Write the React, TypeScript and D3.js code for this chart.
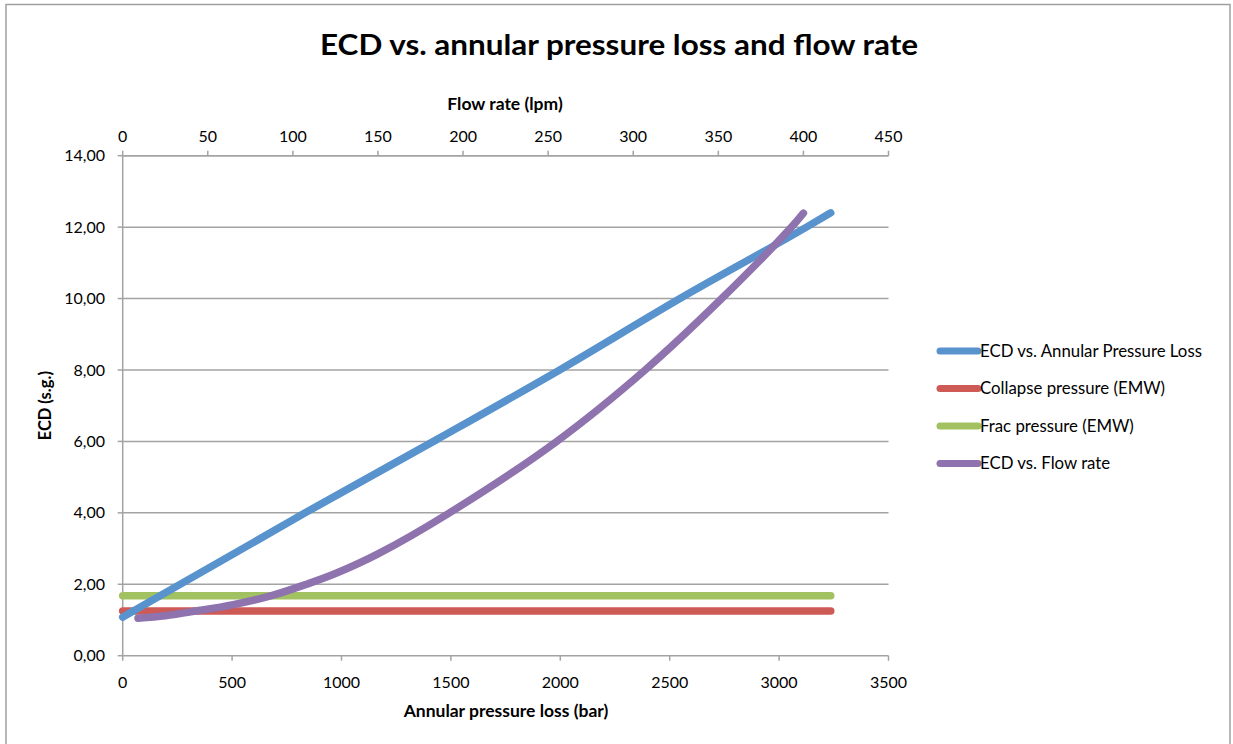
import React from "react";
import * as d3 from "d3";

const W = 1233;
const H = 744;

// Bottom axis: annular pressure loss (bar)
const aplTicks = [0, 500, 1000, 1500, 2000, 2500, 3000, 3500];
// Top axis: flow rate (lpm)
const flowTicks = [0, 50, 100, 150, 200, 250, 300, 350, 400, 450];
const ecdTicks = [0, 2, 4, 6, 8, 10, 12, 14];

// ECD vs annular pressure loss
const aplValues = [0, 834, 1435, 1997, 2547, 3125, 3236];
const ecdVsApl = [1.08, 4.0, 6.05, 8.0, 10.0, 12.0, 12.4];

// Collapse / frac pressure (EMW), constant over APL range
const limitApl = [0, 3236];
const collapseEmw = [1.25, 1.25];
const fracEmw = [1.68, 1.68];

// ECD vs flow rate
const flowValues = [9, 25, 43, 65, 88, 108, 125, 150, 192, 255, 307, 352, 393, 400];
const ecdVsFlow = [1.05, 1.12, 1.25, 1.43, 1.69, 2.0, 2.3, 2.85, 4.0, 6.0, 8.0, 10.0, 12.0, 12.39];

const seriesNames = [
  "ECD vs. Annular Pressure Loss",
  "Collapse pressure (EMW)",
  "Frac pressure (EMW)",
  "ECD vs. Flow rate",
];
const seriesColors = ["#5893cd", "#cd5a55", "#a2c160", "#8f73ae"];

const FONT = "Lato, 'Open Sans', sans-serif";

export default function App() {
  const left = 122.7;
  const right = 888.5;
  const top = 155.7;
  const bottom = 655.7;

  const xApl = d3.scaleLinear().domain([0, 3500]).range([left, right]);
  const xFlow = d3.scaleLinear().domain([0, 450]).range([left, right]);
  const y = d3.scaleLinear().domain([0, 14]).range([bottom, top]);

  const lineApl = d3
    .line<[number, number]>()
    .x((d) => xApl(d[0]))
    .y((d) => y(d[1]))
    .curve(d3.curveMonotoneX);
  const lineFlow = d3
    .line<[number, number]>()
    .x((d) => xFlow(d[0]))
    .y((d) => y(d[1]))
    .curve(d3.curveCatmullRom.alpha(0.5));

  const zip = (a: number[], b: number[]) => a.map((v, i) => [v, b[i]] as [number, number]);

  const paths = [
    lineApl(zip(aplValues, ecdVsApl)),
    lineApl(zip(limitApl, collapseEmw)),
    lineApl(zip(limitApl, fracEmw)),
    lineFlow(zip(flowValues, ecdVsFlow)),
  ];
  const order = [2, 1, 0, 3];

  const fmt = (v: number) => v.toFixed(2).replace(".", ",");
  const axisColor = "#a3a3a3";

  return (
    <svg
      width={W}
      height={H}
      style={{ position: "absolute", left: 0, top: 0, background: "#fff" }}
      fontFamily={FONT}
    >
      <rect x={6} y={4.5} width={1224} height={760} fill="#fff" stroke="#a0a0a0" strokeWidth={1.5} />

      <text
        x={619}
        y={55}
        textAnchor="middle"
        fontSize={29}
        fontWeight="bold"
        fill="#000"
        textLength={598}
        lengthAdjust="spacingAndGlyphs"
      >
        ECD vs. annular pressure loss and flow rate
      </text>

      {/* gridlines */}
      {ecdTicks.slice(1).map((t) => (
        <line key={"g" + t} x1={left} x2={right} y1={y(t)} y2={y(t)} stroke={axisColor} strokeWidth={1.5} />
      ))}

      {/* left axis */}
      <line x1={left} x2={left} y1={top} y2={bottom} stroke={axisColor} strokeWidth={1.5} />
      {ecdTicks.map((t) => (
        <g key={"y" + t}>
          <line x1={left - 5} x2={left} y1={y(t)} y2={y(t)} stroke={axisColor} strokeWidth={1.5} />
          <text x={105} y={y(t)} dy="0.35em" textAnchor="end" fontSize={16} fill="#000">
            {fmt(t)}
          </text>
        </g>
      ))}
      <text
        transform={`translate(51,${(top + bottom) / 2}) rotate(-90)`}
        textAnchor="middle"
        fontSize={16.5}
        fontWeight="bold"
        fill="#000"
      >
        ECD (s.g.)
      </text>

      {/* bottom axis */}
      <line x1={left} x2={right} y1={bottom} y2={bottom} stroke={axisColor} strokeWidth={1.5} />
      {aplTicks.map((t) => (
        <g key={"b" + t}>
          <line x1={xApl(t)} x2={xApl(t)} y1={bottom} y2={bottom + 5} stroke={axisColor} strokeWidth={1.5} />
          <text x={xApl(t)} y={688} textAnchor="middle" fontSize={16} fill="#000">
            {t}
          </text>
        </g>
      ))}
      <text x={506} y={717} textAnchor="middle" fontSize={17.5} fontWeight="bold" fill="#000">
        Annular pressure loss (bar)
      </text>

      {/* top axis */}
      <line x1={left} x2={right} y1={top} y2={top} stroke={axisColor} strokeWidth={1.5} />
      {flowTicks.map((t) => (
        <g key={"t" + t}>
          <line x1={xFlow(t)} x2={xFlow(t)} y1={top - 5} y2={top} stroke={axisColor} strokeWidth={1.5} />
          <text x={xFlow(t)} y={142} textAnchor="middle" fontSize={16} fill="#000">
            {t}
          </text>
        </g>
      ))}
      <text x={505} y={110} textAnchor="middle" fontSize={17.5} fontWeight="bold" fill="#000">
        Flow rate (lpm)
      </text>

      {/* series */}
      {order.map((i) => (
        <path
          key={"s" + i}
          d={paths[i] || ""}
          fill="none"
          stroke={seriesColors[i]}
          strokeWidth={7.5}
          strokeLinecap="round"
          strokeLinejoin="round"
        />
      ))}

      {/* legend */}
      {seriesNames.map((name, i) => {
        const ly = 351 + i * 37.5;
        return (
          <g key={"l" + i}>
            <line x1={940} x2={978} y1={ly} y2={ly} stroke={seriesColors[i]} strokeWidth={7} strokeLinecap="round" />
            <text x={980} y={ly} dy="0.35em" fontSize={16.8} fill="#000">
              {name}
            </text>
          </g>
        );
      })}
    </svg>
  );
}
